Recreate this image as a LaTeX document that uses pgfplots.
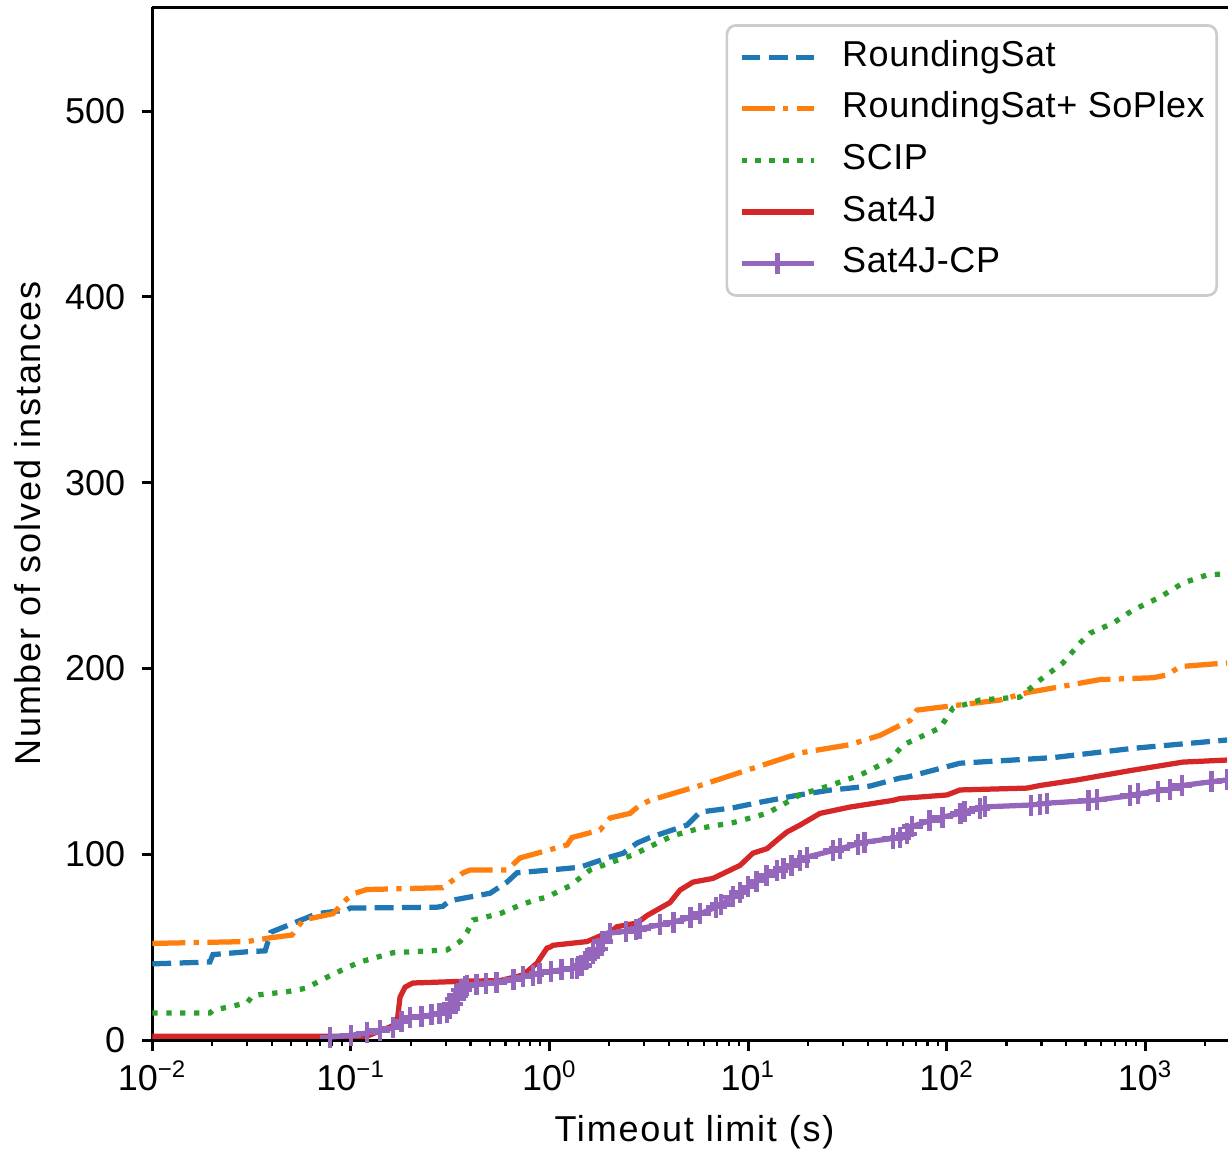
\documentclass[border=0pt]{standalone}
\usepackage{fontspec}
\setmainfont{Liberation Sans}
\newfontfamily\lblfont[LetterSpace=5]{Liberation Sans}
\newfontfamily\legfont[LetterSpace=1.5]{Liberation Sans}
\usepackage{pgfplots}
\pgfplotsset{compat=1.18}
\definecolor{tabblue}{HTML}{1F77B4}
\definecolor{taborange}{HTML}{FF7F0E}
\definecolor{tabgreen}{HTML}{2CA02C}
\definecolor{tabred}{HTML}{D62728}
\definecolor{tabpurple}{HTML}{9467BD}
\newcommand{\fs}{\fontsize{12}{14.4}\selectfont}
\begin{document}
\begin{tikzpicture}
\begin{axis}[
  scale only axis, width=358.57pt, height=344.33pt,
  xmode=log, xmin=0.01, xmax=2609, ymin=0, ymax=556,
  axis x line=box, axis y line=left,
  axis line style={-, line width=1pt, black},
  xtick pos=left, ytick pos=left, tick align=outside,
  major tick length=3.5pt, minor tick length=2pt,
  major tick style={line width=1pt, black},
  minor tick style={line width=0.7pt, black},
  xtick={0.01,0.1,1,10,100,1000},
  xticklabels={10\textsuperscript{−2},10\textsuperscript{−1},10\textsuperscript{0},10\textsuperscript{1},10\textsuperscript{2},10\textsuperscript{3}},
  minor xtick={0.02,0.03,0.04,0.05,0.06,0.07,0.08,0.09,0.2,0.3,0.4,0.5,0.6,0.7,0.8,0.9,2,3,4,5,6,7,8,9,20,30,40,50,60,70,80,90,200,300,400,500,600,700,800,900,2000},
  ytick={0,100,200,300,400,500},
  /pgf/number format/assume math mode=true,
  ticklabel style={font=\fs},
  yticklabel style={xshift=-2pt},
  label style={font=\fs\lblfont},
  xlabel={Timeout limit (s)},
  ylabel={Number of solved instances},
  xlabel style={at={(axis description cs:0.504,-0.0985)}, anchor=base},
  ylabel style={at={(axis description cs:-0.1035,0.5)}, anchor=base},
  legend style={at={(axis description cs:0.9907,0.9835)}, anchor=north east,
    draw=black!20, line width=0.9pt, rounded corners=3pt, fill=white,
    inner xsep=4pt, inner ysep=5pt, row sep=6pt, column sep=8.7pt, font=\fs\legfont,
    nodes={inner sep=0pt, text height=8.6pt, text depth=2.6pt},
    cells={anchor=west}},
  legend image code/.code={\draw[mark repeat=2,mark phase=2,#1] plot coordinates {(0pt,0pt) (12pt,0pt) (24pt,0pt)};},
]
\coordinate (origin) at (rel axis cs:0,0);
\addplot[tabblue, line width=1.75pt, dash pattern=on 6.3pt off 2.8pt] coordinates {
(0.01,41) (0.0195,42) (0.0202,46) (0.0300,47.5) (0.037,48) (0.0395,58) (0.0674,68)
(0.0956,70) (0.099,71) (0.271,71.5) (0.29,72) (0.3155,75) (0.5017,79) (0.611,85)
(0.686,90) (1.0,91.5) (1.424,93) (2.017,98.5) (2.345,100.5) (2.758,106) (3.206,109)
(4.924,115.7) (5.726,122.7) (8.395,125) (11.48,128) (18.25,132) (25.85,134.5)
(41.1,136.7) (58.2,141) (63.1,141.5) (116.7,149) (343,152) (867,157) (2579,161.5)
};
\addlegendentry{RoundingSat}
\addplot[taborange, line width=1.75pt, dash pattern=on 11pt off 2.8pt on 1.75pt off 2.8pt] coordinates {
(0.01,52) (0.03,53) (0.0391,55) (0.0505,56.5) (0.0574,64.6) (0.0813,68) (0.0956,76)
(0.105,79) (0.12,81) (0.29,82) (0.367,90) (0.398,91.5) (0.611,91.5) (0.71,98)
(1.225,105) (1.298,109) (1.796,113) (2.017,119.5) (2.543,122) (2.855,126.5) (3.206,129)
(5.726,137) (9.104,144) (14.47,151) (18.25,154.5) (32.6,159) (46.14,164) (65.35,172)
(70.88,177.6) (185.5,183) (253.8,187) (591.5,194) (1093,195) (1286,196.5) (1495,201) (2579,203)
};
\addlegendentry{RoundingSat+ SoPlex}
\addplot[tabgreen, line width=1.75pt, dash pattern=on 1.75pt off 2.9pt] coordinates {
(0.01,14.5) (0.0195,14.5) (0.0202,16) (0.030,20) (0.0321,24) (0.0477,26) (0.0601,28)
(0.0699,32) (0.0956,39) (0.1111,42) (0.1629,47) (0.3047,48.5) (0.3542,53) (0.3842,58)
(0.4119,64.6) (0.5635,68) (0.7103,72.6) (0.826,75) (0.971,77) (1.268,83) (1.599,91.5)
(2.088,96) (2.633,99.6) (3.478,106) (4.186,110) (5.726,114) (8.395,117) (12.45,122)
(15.70,128) (18.25,132) (25.85,137) (36.59,142.6) (51.82,150.7) (60.26,158.8) (92.53,168)
(107.6,178.7) (147.2,183) (233.9,184.6) (295,193.8) (385.1,203) (469.1,213.7) (526.7,219)
(687.8,224.4) (867.1,231.4) (1186,238.4) (1548,246) (2045,250.3) (2579,251)
};
\addlegendentry{SCIP}
\addplot[tabred, line width=1.75pt] coordinates {
(0.01,2) (0.12,2) (0.157,7) (0.1706,9) (0.1767,23) (0.1873,28.5) (0.2054,30.7)
(0.3842,31.7) (0.5635,32) (0.7355,35) (0.865,41.4) (0.971,49.5) (1.006,50) (1.041,51)
(1.545,53) (1.796,56) (2.017,58) (2.187,61) (2.758,63) (3.097,67) (4.043,74) (4.539,80.7)
(5.279,85) (6.656,87) (9.104,94) (10.58,100.6) (12.45,103) (13.98,107.6) (15.70,112)
(18.25,115.7) (23.01,122) (32.60,125.4) (53.65,129) (58.21,130) (100.3,131.9) (116.7,134.6)
(253.8,135.6) (295,137) (453,140) (837.5,145) (1548,149.6) (2579,150.7)
};
\addlegendentry{Sat4J}
\addplot[tabpurple, line width=1.75pt, mark=+, mark size=3.5pt, mark options={solid, line width=1.5pt}] coordinates {
(0.0785,1.6) (0.1,2.5) (0.1205,3.8) (0.14,5) (0.1629,6.5) (0.18,10) (0.198,12)
(0.227,12.8) (0.254,13.5) (0.28,14.2) (0.3047,15) (0.315,17) (0.325,19.5) (0.335,22)
(0.345,24) (0.36,27) (0.375,29) (0.3842,29.6) (0.43,30) (0.48,30.5) (0.54,31)
(0.66,32.5) (0.735,34) (0.826,35) (0.89,36) (1.02,37) (1.15,37.8) (1.3,38.5)
(1.376,38.7) (1.45,40) (1.54,44) (1.66,46.5) (1.75,49) (1.85,53) (2.02,57.6)
(2.43,58.5) (2.73,59.5) (2.86,60) (3.6,62) (4.2,63.5) (5.13,66) (5.73,68) (6.9,71.5)
(7.3,73) (8.4,77) (9.1,79.5) (10,82.5) (11,85.5) (12.4,88.5) (14,91) (15.1,92.5)
(16.5,94) (18.2,96.5) (19.8,98.5) (26.8,102) (29,103) (35.7,105.5) (38.5,106.5)
(53.6,108.5) (58.2,109) (63,111) (67,115) (82,118) (95,120) (117,122) (123,123)
(147,124.5) (156,125.5) (265,126.5) (295,127) (320,127.5) (516,128.8) (570,129.2)
(838,131.5) (920,132.5) (1160,134) (1330,135) (1530,137) (2150,139) (2579,140)
};
\addlegendentry{Sat4J-CP}
\end{axis}
\pgfresetboundingbox
\path[use as bounding box] ([shift={(-50.77pt,-37.33pt)}]origin) rectangle ++(409.33pt,384pt);
\end{tikzpicture}
\end{document}
